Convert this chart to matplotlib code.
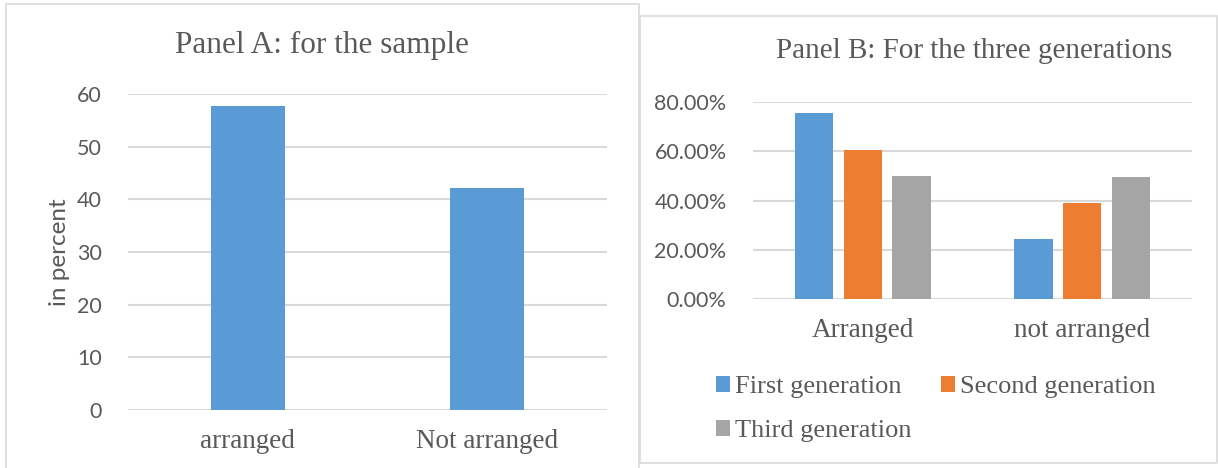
import matplotlib.pyplot as plt
from matplotlib.patches import Rectangle
from matplotlib.ticker import PercentFormatter
import numpy as np

# Panel A: whole sample, in percent
sample_cats = ['arranged', 'Not arranged']
sample_vals = [57.8, 42.2]

# Panel B: by generation, as shares
gen_cats = ['Arranged', 'not arranged']
gen_names = ['First generation', 'Second generation', 'Third generation']
gen_vals = [[0.755, 0.245],
            [0.608, 0.392],
            [0.502, 0.498]]
gen_colors = ['#5B9BD5', '#ED7D31', '#A5A5A5']

W, H = 1218, 468
serif = ['Liberation Serif', 'DejaVu Serif']
sans = ['Lato', 'DejaVu Sans']
txt = '#595959'
grid = '#D9D9D9'

fig = plt.figure(figsize=(W / 100, H / 100), dpi=100)


def fx(px):
    return px / W


def fy(py):
    return 1 - py / H


# chart frames, kept behind the axes
fig.patches.append(Rectangle((fx(6), fy(470)), fx(639.5 - 6), fy(4) - fy(470),
                             transform=fig.transFigure, fill=False,
                             edgecolor=grid, lw=1.2, zorder=-10))
fig.patches.append(Rectangle((fx(639.5), fy(463)), fx(1217 - 639.5), fy(16) - fy(463),
                             transform=fig.transFigure, facecolor='white',
                             edgecolor=grid, lw=1.2, zorder=-9))


def style_axes(ax):
    ax.patch.set_alpha(0)
    for s in ax.spines.values():
        s.set_visible(False)
    ax.yaxis.grid(True, color=grid, lw=1.5)
    ax.set_axisbelow(True)
    ax.tick_params(length=0)
    ax.tick_params(axis='y', labelsize=15.5, labelcolor=txt, pad=19)
    ax.tick_params(axis='x', labelcolor=txt, pad=14)
    for lab in ax.get_yticklabels():
        lab.set_family(sans)


# Panel A
axA = fig.add_axes([fx(128), fy(410), fx(607 - 128), fy(94) - fy(410)])
xa = np.arange(len(sample_cats))
axA.bar(xa, sample_vals, width=0.31, color=gen_colors[0], zorder=3)
axA.set_xlim(-0.5, len(sample_cats) - 0.5)
axA.set_ylim(0, 60)
axA.set_yticks(range(0, 61, 10))
axA.set_xticks(xa)
axA.set_xticklabels(sample_cats, family=serif, fontsize=19.5)
style_axes(axA)
axA.set_ylabel('in percent', family=sans, fontsize=17.5, color=txt)
axA.yaxis.set_label_coords(-0.121, 0.5)
fig.text(fx(322), fy(45), 'Panel A: for the sample', ha='center', va='center',
         family=serif, fontsize=22.5, color=txt)

# Panel B
axB = fig.add_axes([fx(753), fy(299), fx(1192 - 753), fy(102.3) - fy(299)])
xb = np.arange(len(gen_cats))
bw, step = 0.175, 0.223
bars = []
for i, (name, vals) in enumerate(zip(gen_names, gen_vals)):
    bars.append(axB.bar(xb + (i - 1) * step, vals, width=bw, color=gen_colors[i],
                        label=name, zorder=3))
axB.set_xlim(-0.5, len(gen_cats) - 0.5)
axB.set_ylim(0, 0.8)
axB.set_yticks(np.arange(0, 0.81, 0.2))
axB.yaxis.set_major_formatter(PercentFormatter(1.0, decimals=2))
axB.set_xticks(xb)
axB.set_xticklabels(gen_cats, family=serif, fontsize=19.5)
style_axes(axB)
fig.text(fx(974), fy(51), 'Panel B: For the three generations', ha='center',
         va='center', family=serif, fontsize=21, color=txt)

# legend filled column-wise, so this order gives rows First/Second, Third
order = [0, 2, 1]
leg = fig.legend([bars[i] for i in order], [gen_names[i] for i in order],
                 ncol=2, loc='upper left', bbox_to_anchor=(fx(703), fy(363)),
                 frameon=False, prop={'family': serif, 'size': 19},
                 handlelength=0.53, handleheight=0.53, handletextpad=0.2,
                 columnspacing=1.1, labelspacing=0.82, borderpad=0)
for t in leg.get_texts():
    t.set_color(txt)

fig.savefig('out.png', dpi=100)
